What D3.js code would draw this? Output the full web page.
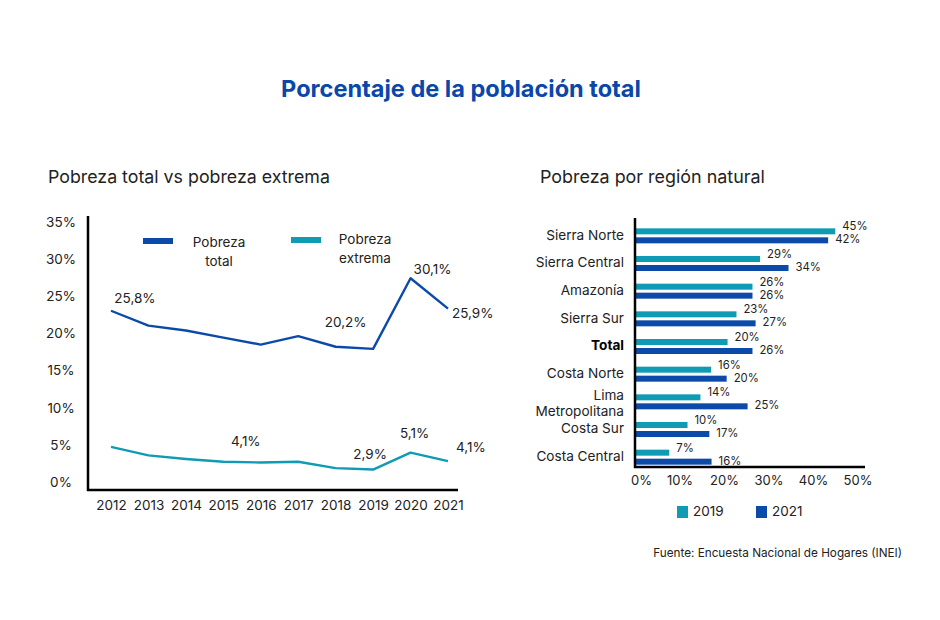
<!DOCTYPE html>
<html>
<head>
<meta charset="utf-8">
<script src="https://cdn.jsdelivr.net/npm/d3@7/dist/d3.min.js"></script>
<style>
  html, body { margin: 0; padding: 0; background: #fff; }
  svg { display: block; font-family: Inter, "Noto Sans", sans-serif; }
</style>
</head>
<body>
<svg id="chart" width="940" height="620"></svg>
<script>
// ---------- data ----------
const years = ["2012","2013","2014","2015","2016","2017","2018","2019","2020","2021"];
const pobrezaTotal   = [25.4, 23.3, 22.6, 21.6, 20.6, 21.8, 20.3, 20.0, 30.0, 25.7];
const pobrezaExtrema = [6.1, 4.9, 4.4, 4.0, 3.9, 4.0, 3.1, 2.9, 5.3, 4.1];
const leftTicks = [0, 5, 10, 15, 20, 25, 30, 35];
const totalLabels = [
  {year: "2012", text: "25,8%"}, {year: "2018", text: "20,2%"},
  {year: "2020", text: "30,1%"}, {year: "2021", text: "25,9%"}
];
const extremaLabels = [
  {year: "2016", text: "4,1%"}, {year: "2019", text: "2,9%"},
  {year: "2020", text: "5,1%"}, {year: "2021", text: "4,1%"}
];

const regions = ["Sierra Norte","Sierra Central","Amazonía","Sierra Sur","Total","Costa Norte","Lima Metropolitana","Costa Sur","Costa Central"];
const v2019 = [45.0, 28.1, 26.4, 22.8, 20.8, 17.1, 14.7, 11.8, 7.7];
const v2021 = [43.4, 34.5, 26.4, 27.1, 26.4, 20.6, 25.3, 16.7, 17.2];
const lab2019 = ["45%","29%","26%","23%","20%","16%","14%","10%","7%"];
const lab2021 = ["42%","34%","26%","27%","26%","20%","25%","17%","16%"];
const rightTicks = [0, 10, 20, 30, 40, 50];

// ---------- style ----------
const BLUE = "#0b4aa8";
const TEAL = "#0f9bb4";
const TXT = "#222";
const TITLE = "#0a47a9";
const FONT = "Inter, 'Noto Sans', sans-serif";

const svg = d3.select("#chart");

function fitWidth(sel, target) {
  const w = sel.node().getComputedTextLength();
  const fs = parseFloat(sel.attr("font-size"));
  sel.attr("font-size", (fs * target / w).toFixed(2));
  return sel;
}

// Title
fitWidth(svg.append("text").attr("x", 461).attr("y", 97).attr("text-anchor", "middle")
  .attr("font-size", 22).attr("font-weight", 700).attr("fill", TITLE)
  .text("Porcentaje de la población total"), 360);

fitWidth(svg.append("text").attr("x", 48).attr("y", 183).attr("font-size", 18).attr("fill", TXT)
  .text("Pobreza total vs pobreza extrema"), 282);
fitWidth(svg.append("text").attr("x", 540).attr("y", 183).attr("font-size", 18).attr("fill", TXT)
  .text("Pobreza por región natural"), 225);

// ---------- left chart ----------
const xL = d3.scalePoint().domain(years).range([111, 448]);
const yL = d3.scaleLinear().domain([0, 35]).range([490, 243]);
const yTickPos = d3.scaleLinear().domain([0, 35]).range([482, 222]);

const gL = svg.append("g");
const axL = gL.append("g").attr("transform", "translate(88,0)")
  .call(d3.axisLeft(yTickPos).tickValues(leftTicks).tickSize(0).tickFormat(d => d + "%"));
axL.select(".domain").remove();
axL.selectAll("text").attr("x", -27).attr("text-anchor", "middle")
  .attr("font-size", 13.5).attr("font-family", FONT).attr("fill", TXT);

const axB = gL.append("g").attr("transform", "translate(0,490)")
  .call(d3.axisBottom(xL).tickSize(0));
axB.select(".domain").remove();
axB.selectAll("text").attr("dy", 0).attr("y", 20).attr("font-size", 13.5)
  .attr("font-family", FONT).attr("fill", TXT);

gL.append("line").attr("x1", 88).attr("x2", 88).attr("y1", 216).attr("y2", 491)
  .attr("stroke", "#000").attr("stroke-width", 2.5);
gL.append("line").attr("x1", 87).attr("x2", 458).attr("y1", 490).attr("y2", 490)
  .attr("stroke", "#000").attr("stroke-width", 2.5);

const line = d3.line().x((d, i) => xL(years[i])).y(d => yL(d));
gL.append("path").datum(pobrezaTotal).attr("d", line).attr("fill", "none")
  .attr("stroke", BLUE).attr("stroke-width", 2.4).attr("stroke-linejoin", "round");
gL.append("path").datum(pobrezaExtrema).attr("d", line).attr("fill", "none")
  .attr("stroke", TEAL).attr("stroke-width", 2.4).attr("stroke-linejoin", "round");

const tLabOff = {"2012": [24, -11], "2018": [10, -23], "2020": [22, -8], "2021": [4, 6]};
totalLabels.forEach(l => {
  const i = years.indexOf(l.year);
  const o = tLabOff[l.year];
  gL.append("text").attr("x", xL(l.year) + o[0]).attr("y", yL(pobrezaTotal[i]) + o[1])
    .attr("text-anchor", l.year === "2021" ? "start" : "middle").attr("dominant-baseline", "middle")
    .attr("font-size", 13.5).attr("fill", TXT).text(l.text);
});
const eLabOff = {"2016": [-15, -20], "2019": [-3, -14], "2020": [4, -18], "2021": [8, -13]};
extremaLabels.forEach(l => {
  const i = years.indexOf(l.year);
  const o = eLabOff[l.year];
  gL.append("text").attr("x", xL(l.year) + o[0]).attr("y", yL(pobrezaExtrema[i]) + o[1])
    .attr("text-anchor", l.year === "2021" ? "start" : "middle").attr("dominant-baseline", "middle")
    .attr("font-size", 13.5).attr("fill", TXT).text(l.text);
});

// legend
gL.append("rect").attr("x", 143).attr("y", 238).attr("width", 30).attr("height", 6).attr("fill", BLUE);
gL.append("text").attr("x", 219).attr("y", 243).attr("text-anchor", "middle").attr("dominant-baseline", "middle")
  .attr("font-size", 13.5).attr("fill", TXT).text("Pobreza");
gL.append("text").attr("x", 219).attr("y", 262).attr("text-anchor", "middle").attr("dominant-baseline", "middle")
  .attr("font-size", 13.5).attr("fill", TXT).text("total");
gL.append("rect").attr("x", 291).attr("y", 237).attr("width", 30).attr("height", 6).attr("fill", TEAL);
gL.append("text").attr("x", 365).attr("y", 240).attr("text-anchor", "middle").attr("dominant-baseline", "middle")
  .attr("font-size", 13.5).attr("fill", TXT).text("Pobreza");
gL.append("text").attr("x", 365).attr("y", 259).attr("text-anchor", "middle").attr("dominant-baseline", "middle")
  .attr("font-size", 13.5).attr("fill", TXT).text("extrema");

// ---------- right chart ----------
const xR = d3.scaleLinear().domain([0, 50]).range([635, 857.5]);
const yR = d3.scaleBand().domain(regions).range([222, 471]);
const gR = svg.append("g");

const axR = gR.append("g").attr("transform", "translate(0,467)")
  .call(d3.axisBottom(xR).tickValues(rightTicks).tickSize(0).tickFormat(d => d + "%"));
axR.select(".domain").remove();
axR.selectAll("text").attr("dy", 0).attr("y", 18).attr("font-size", 13)
  .attr("font-family", FONT).attr("fill", TXT);
axR.selectAll(".tick").filter(d => d === 0).select("text").attr("x", 6);

const bh = 6;
regions.forEach((r, i) => {
  const c = yR(r) + yR.bandwidth() / 2;
  gR.append("rect").attr("x", xR(0)).attr("y", c - 7.5).attr("width", xR(v2019[i]) - xR(0)).attr("height", bh)
    .attr("fill", TEAL);
  gR.append("rect").attr("x", xR(0)).attr("y", c + 1.5).attr("width", xR(v2021[i]) - xR(0)).attr("height", bh)
    .attr("fill", BLUE);
  gR.append("text").attr("x", xR(v2019[i]) + 7).attr("y", c - 8.5).attr("dominant-baseline", "middle")
    .attr("font-size", 11.3).attr("fill", TXT).text(lab2019[i]);
  gR.append("text").attr("x", xR(v2021[i]) + 7).attr("y", c + 4.5).attr("dominant-baseline", "middle")
    .attr("font-size", 11.3).attr("fill", TXT).text(lab2021[i]);
  if (r === "Lima Metropolitana") {
    gR.append("text").attr("x", 624).attr("y", c - 6).attr("text-anchor", "end").attr("dominant-baseline", "middle")
      .attr("font-size", 13.6).attr("fill", TXT).text("Lima");
    gR.append("text").attr("x", 624).attr("y", c + 10).attr("text-anchor", "end").attr("dominant-baseline", "middle")
      .attr("font-size", 13.6).attr("fill", TXT).text("Metropolitana");
  } else {
    gR.append("text").attr("x", 624).attr("y", c).attr("text-anchor", "end").attr("dominant-baseline", "middle")
      .attr("font-size", 13.6).attr("font-weight", r === "Total" ? 700 : 400).attr("fill", r === "Total" ? "#000" : TXT)
      .text(r);
  }
});

gR.append("line").attr("x1", 635).attr("x2", 635).attr("y1", 218).attr("y2", 468)
  .attr("stroke", "#000").attr("stroke-width", 2.5);
gR.append("line").attr("x1", 634).attr("x2", 865).attr("y1", 467).attr("y2", 467)
  .attr("stroke", "#000").attr("stroke-width", 2.5);

// legend
gR.append("rect").attr("x", 677).attr("y", 506).attr("width", 11).attr("height", 12).attr("fill", TEAL);
gR.append("text").attr("x", 693).attr("y", 512).attr("dominant-baseline", "middle").attr("font-size", 13.5)
  .attr("fill", TXT).text("2019");
gR.append("rect").attr("x", 756).attr("y", 506).attr("width", 11).attr("height", 12).attr("fill", BLUE);
gR.append("text").attr("x", 772).attr("y", 512).attr("dominant-baseline", "middle").attr("font-size", 13.5)
  .attr("fill", TXT).text("2021");

// source
fitWidth(svg.append("text").attr("x", 902).attr("y", 554).attr("text-anchor", "end").attr("dominant-baseline", "middle")
  .attr("font-size", 11).attr("fill", TXT).text("Fuente: Encuesta Nacional de Hogares (INEI)"), 249);
</script>
</body>
</html>
